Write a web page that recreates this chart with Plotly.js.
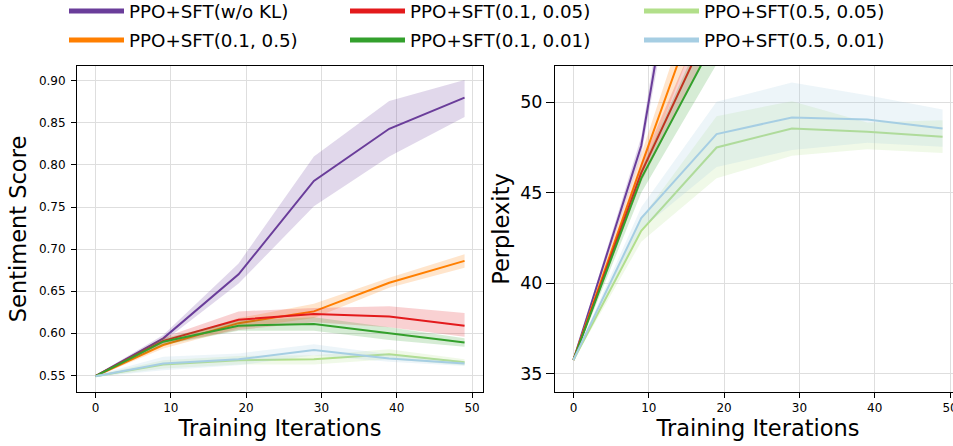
<!DOCTYPE html>
<html><head><meta charset="utf-8">
<script src="https://cdn.plot.ly/plotly-3.0.1.min.js"></script>
<style>html,body{margin:0;padding:0;overflow:hidden;background:#fff}#chart{width:962px;height:466px;margin-top:-20px}</style>
</head><body><div id="chart"></div>
<script>
// ---------------- data ----------------
const iters = [0, 9, 19, 29, 39, 49];
const seriesNames = ["PPO+SFT(w/o KL)", "PPO+SFT(0.1, 0.5)", "PPO+SFT(0.1, 0.05)", "PPO+SFT(0.1, 0.01)", "PPO+SFT(0.5, 0.05)", "PPO+SFT(0.5, 0.01)"];

// Sentiment score (mean, lower, upper)
const sentWoKL      = [0.549, 0.594, 0.670, 0.781, 0.843, 0.880];
const sentWoKLLo    = [0.548, 0.590, 0.659, 0.751, 0.810, 0.857];
const sentWoKLHi    = [0.550, 0.598, 0.683, 0.810, 0.876, 0.901];
const sent01_05     = [0.549, 0.586, 0.612, 0.626, 0.660, 0.686];
const sent01_05Lo   = [0.548, 0.582, 0.606, 0.618, 0.654, 0.678];
const sent01_05Hi   = [0.550, 0.590, 0.618, 0.635, 0.666, 0.694];
const sent01_005    = [0.549, 0.591, 0.616, 0.623, 0.620, 0.609];
const sent01_005Lo  = [0.548, 0.587, 0.604, 0.613, 0.607, 0.596];
const sent01_005Hi  = [0.550, 0.595, 0.626, 0.630, 0.632, 0.624];
const sent01_001    = [0.549, 0.590, 0.609, 0.611, 0.600, 0.589];
const sent01_001Lo  = [0.548, 0.586, 0.603, 0.603, 0.592, 0.584];
const sent01_001Hi  = [0.550, 0.594, 0.615, 0.619, 0.607, 0.594];
const sent05_005    = [0.549, 0.563, 0.568, 0.569, 0.575, 0.5655];
const sent05_005Lo  = [0.548, 0.558, 0.563, 0.563, 0.569, 0.562];
const sent05_005Hi  = [0.550, 0.568, 0.573, 0.574, 0.581, 0.569];
const sent05_001    = [0.549, 0.564, 0.569, 0.580, 0.570, 0.564];
const sent05_001Lo  = [0.548, 0.556, 0.562, 0.574, 0.566, 0.561];
const sent05_001Hi  = [0.550, 0.572, 0.576, 0.587, 0.575, 0.567];

// Perplexity (mean, lower, upper)
const pplWoKL      = [35.77, 47.6, 72.0, 95.0, 110.0, 120.0];
const pplWoKLLo    = [35.72, 47.1, 70.0, 92.0, 106.0, 116.0];
const pplWoKLHi    = [35.82, 48.1, 74.0, 98.0, 114.0, 124.0];
const ppl01_05     = [35.77, 46.5, 58.1, 66.0, 72.0, 77.0];
const ppl01_05Lo   = [35.72, 45.9, 56.5, 64.0, 70.0, 75.0];
const ppl01_05Hi   = [35.82, 47.1, 59.7, 68.0, 74.0, 79.0];
const ppl01_005    = [35.77, 46.1, 55.0, 61.0, 66.0, 70.0];
const ppl01_005Lo  = [35.72, 45.6, 53.8, 59.5, 64.5, 68.5];
const ppl01_005Hi  = [35.82, 46.6, 56.2, 62.5, 67.5, 71.5];
const ppl01_001    = [35.77, 45.8, 53.65, 59.0, 63.0, 67.0];
const ppl01_001Lo  = [35.72, 45.0, 52.1, 56.5, 60.5, 64.0];
const ppl01_001Hi  = [35.82, 46.3, 55.5, 61.5, 65.5, 70.0];
const ppl05_005    = [35.77, 42.9, 47.5, 48.55, 48.37, 48.09];
const ppl05_005Lo  = [35.72, 42.3, 45.8, 47.04, 47.41, 47.2];
const ppl05_005Hi  = [35.82, 43.6, 49.23, 50.06, 48.88, 49.0];
const ppl05_001    = [35.77, 43.6, 48.24, 49.16, 49.05, 48.55];
const ppl05_001Lo  = [35.72, 43.0, 46.43, 47.36, 47.76, 47.54];
const ppl05_001Hi  = [35.82, 44.2, 50.02, 51.09, 50.39, 49.6];

const sentTicks = [0.55, 0.60, 0.65, 0.70, 0.75, 0.80, 0.85, 0.90];
const pplTicks = [35, 40, 45, 50];
const iterTicks = [0, 10, 20, 30, 40, 50];

// ---------------- styles ----------------
const lineColors = ["#6a3d9a", "#ff7f00", "#e31a1c", "#33a02c", "#b2df8a", "#a6cee3"];
const fillColors = ["rgba(106,61,154,0.2)", "rgba(255,127,0,0.2)", "rgba(227,26,28,0.2)",
                    "rgba(51,160,44,0.2)", "rgba(178,223,138,0.2)", "rgba(166,206,227,0.2)"];

const sentSets = [
  [sentWoKL, sentWoKLLo, sentWoKLHi], [sent01_05, sent01_05Lo, sent01_05Hi],
  [sent01_005, sent01_005Lo, sent01_005Hi], [sent01_001, sent01_001Lo, sent01_001Hi],
  [sent05_005, sent05_005Lo, sent05_005Hi], [sent05_001, sent05_001Lo, sent05_001Hi]];
const pplSets = [
  [pplWoKL, pplWoKLLo, pplWoKLHi], [ppl01_05, ppl01_05Lo, ppl01_05Hi],
  [ppl01_005, ppl01_005Lo, ppl01_005Hi], [ppl01_001, ppl01_001Lo, ppl01_001Hi],
  [ppl05_005, ppl05_005Lo, ppl05_005Hi], [ppl05_001, ppl05_001Lo, ppl05_001Hi]];

const traces = [];
function addSeries(sets, xa, ya) {
  sets.forEach((s, i) => {
    traces.push({x: iters, y: s[1], xaxis: xa, yaxis: ya, mode: 'lines', line: {width: 0, color: lineColors[i]},
                 showlegend: false, hoverinfo: 'skip'});
    traces.push({x: iters, y: s[2], xaxis: xa, yaxis: ya, mode: 'lines', line: {width: 0, color: lineColors[i]},
                 fill: 'tonexty', fillcolor: fillColors[i], showlegend: false, hoverinfo: 'skip'});
    traces.push({x: iters, y: s[0], xaxis: xa, yaxis: ya, mode: 'lines', name: seriesNames[i],
                 line: {width: 2, color: lineColors[i]}, showlegend: false});
  });
}
addSeries(sentSets, 'x', 'y');
addSeries(pplSets, 'x2', 'y2');

// legend entries (thick lines), one legend per entry to match matplotlib's 3-column layout
const legendIds = ['legend', 'legend2', 'legend3', 'legend4', 'legend5', 'legend6'];
seriesNames.forEach((n, i) => {
  traces.push({x: [null], y: [null], xaxis: 'x', yaxis: 'y', mode: 'lines', name: n,
               line: {width: 5, color: lineColors[i]}, showlegend: true, legend: legendIds[i], hoverinfo: 'skip'});
});

const W = 962, OFF = 20, H = 446 + OFF;   // canvas shifted up by OFF px via CSS
const colStart = [69, 350, 644];
const rowMid = [11, 40];
const legendFont = {family: 'DejaVu Sans', size: 18.3, color: '#000'};
function legendAt(col, row) {
  return {x: (colStart[col] - 5) / W, y: 1 - (rowMid[row] + OFF) / H, xanchor: 'left', yanchor: 'middle',
          font: legendFont, itemwidth: 55, bgcolor: 'rgba(0,0,0,0)', borderwidth: 0};
}

const gridColor = '#dedede';
const font = {family: 'DejaVu Sans', color: '#000'};
function axisBase() {
  return {showline: true, mirror: true, linecolor: '#000', linewidth: 1, ticks: 'outside', ticklen: 5,
          tickcolor: '#000', tickwidth: 1, showgrid: true, gridcolor: gridColor, gridwidth: 1,
          zeroline: false, automargin: false};
}
const yTop = 1 - (66 + OFF) / H, yBot = 1 - (392 + OFF) / H;

const layout = {
  width: W, height: H, margin: {l: 0, r: 0, t: 0, b: 0, autoexpand: false}, paper_bgcolor: '#fff', plot_bgcolor: '#fff',
  font: font, showlegend: true,
  xaxis: Object.assign(axisBase(), {domain: [77 / W, 483 / W], range: [-2.45, 51.45], tickvals: iterTicks,
    tickfont: {size: 12}, title: {text: 'Training Iterations', font: {size: 22.5}, standoff: 4}}),
  yaxis: Object.assign(axisBase(), {domain: [yBot, yTop], range: [0.5302, 0.9176], tickvals: sentTicks,
    tickformat: '.2f', tickfont: {size: 12}, ticklabelstandoff: 3,
    title: {text: 'Sentiment Score', font: {size: 22.5}, standoff: 6}}),
  xaxis2: Object.assign(axisBase(), {domain: [555 / W, 961 / W], range: [-2.45, 51.45], tickvals: iterTicks,
    tickfont: {size: 12}, anchor: 'y2', title: {text: 'Training Iterations', font: {size: 22.5}, standoff: 4}}),
  yaxis2: Object.assign(axisBase(), {domain: [yBot, yTop], range: [34, 52], tickvals: pplTicks, anchor: 'x2',
    ticklen: 8, tickfont: {size: 17.5}, title: {text: 'Perplexity', font: {size: 22.5}, standoff: 4}}),
  legend: legendAt(0, 0), legend2: legendAt(0, 1), legend3: legendAt(1, 0),
  legend4: legendAt(1, 1), legend5: legendAt(2, 0), legend6: legendAt(2, 1)
};

Plotly.newPlot('chart', traces, layout, {displayModeBar: false, staticPlot: true});
</script></body></html>
